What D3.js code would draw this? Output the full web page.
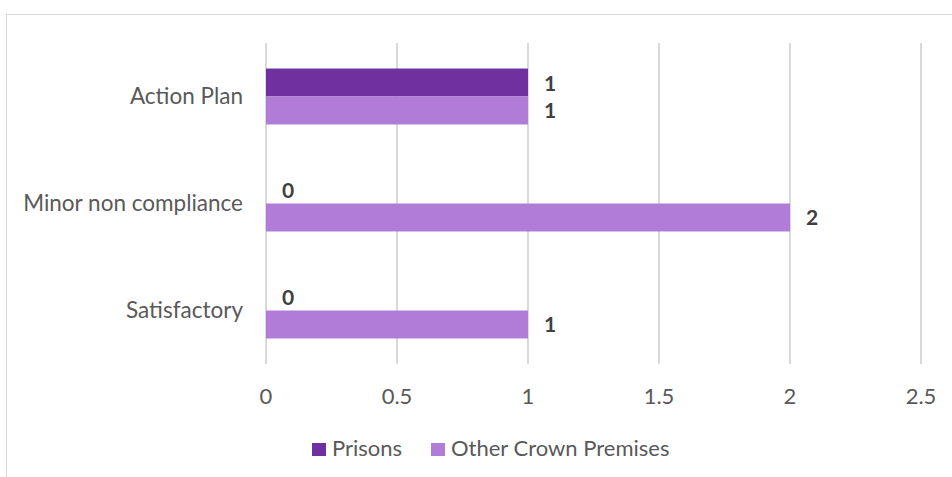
<!DOCTYPE html>
<html>
<head>
<meta charset="utf-8">
<script src="https://cdn.jsdelivr.net/npm/d3@7"></script>
<style>
  body { margin: 0; background: #fff; }
  svg { display: block; font-family: Lato, "Open Sans", sans-serif; }
</style>
</head>
<body>
<div id="chart"></div>
<script>
const categories = ['Action Plan', 'Minor non compliance', 'Satisfactory'];
const seriesNames = ['Prisons', 'Other Crown Premises'];
const prisons = [1, 0, 0];
const otherCrown = [1, 2, 1];
const xTicks = [0, 0.5, 1, 1.5, 2, 2.5];

const width = 952, height = 477;
const colors = { 'Prisons': '#7030a0', 'Other Crown Premises': '#b07cd8' };

const svg = d3.select('#chart').append('svg')
    .attr('width', width)
    .attr('height', height);

// chart area border
svg.append('rect')
    .attr('x', 6.5).attr('y', 14.5)
    .attr('width', 960).attr('height', 480)
    .attr('fill', 'none')
    .attr('stroke', '#d9d9d9');

const x = d3.scaleLinear().domain([0, 2.5]).range([266, 921]);
const y = d3.scaleBand().domain(categories).range([43, 364]).paddingInner(0.477).paddingOuter(0.2385);
const ySub = d3.scaleBand().domain(seriesNames).range([0, y.bandwidth()]);

// gridlines
svg.append('g').selectAll('line')
    .data(xTicks)
    .join('line')
    .attr('x1', d => x(d)).attr('x2', d => x(d))
    .attr('y1', 43).attr('y2', 364)
    .attr('stroke', '#d9d9d9')
    .attr('stroke-width', 2);

// tick labels
svg.append('g').selectAll('text')
    .data(xTicks)
    .join('text')
    .attr('x', d => x(d))
    .attr('y', 404)
    .attr('text-anchor', 'middle')
    .attr('fill', '#595959')
    .attr('font-size', 22)
    .text(d => d);

// category labels
svg.append('g').selectAll('text')
    .data(categories)
    .join('text')
    .attr('x', 243)
    .attr('y', d => y(d) + y.bandwidth() / 2 + 7)
    .attr('text-anchor', 'end')
    .attr('fill', '#595959')
    .attr('font-size', 22.5)
    .text(d => d);

const rows = [];
categories.forEach((c, i) => {
    rows.push({ cat: c, series: 'Prisons', value: prisons[i] });
    rows.push({ cat: c, series: 'Other Crown Premises', value: otherCrown[i] });
});

const bars = svg.append('g').selectAll('g')
    .data(rows)
    .join('g');

bars.append('rect')
    .attr('x', x(0))
    .attr('y', d => y(d.cat) + ySub(d.series))
    .attr('width', d => x(d.value) - x(0))
    .attr('height', ySub.bandwidth())
    .attr('fill', d => colors[d.series]);

bars.append('text')
    .attr('x', d => x(d.value) + 16)
    .attr('y', d => y(d.cat) + ySub(d.series) + ySub.bandwidth() / 2 + 8)
    .attr('fill', '#404040')
    .attr('font-weight', 'bold')
    .attr('font-size', 21)
    .text(d => d.value);

// legend
const legend = svg.append('g');
const legendX = [312, 431];
seriesNames.forEach((s, i) => {
    legend.append('rect')
        .attr('x', legendX[i]).attr('y', 443)
        .attr('width', 14).attr('height', 13)
        .attr('fill', colors[s]);
    legend.append('text')
        .attr('x', legendX[i] + 20)
        .attr('y', 456)
        .attr('fill', '#595959')
        .attr('font-size', 22)
        .text(s);
});
</script>
</body>
</html>
